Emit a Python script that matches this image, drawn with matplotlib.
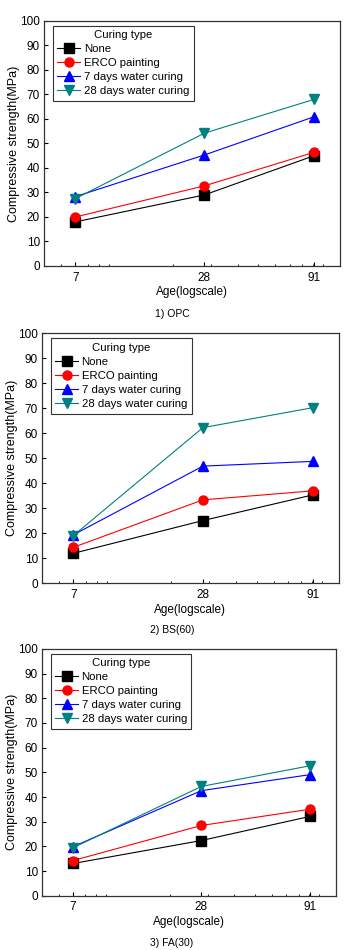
import numpy as np
import matplotlib.pyplot as plt
from matplotlib.ticker import FixedLocator, LogLocator, NullFormatter

plt.rcParams['font.family'] = ['Liberation Sans', 'DejaVu Sans']

#### Data ####

ages = [7, 28, 91]
curing_types = ['None', 'ERCO painting', '7 days water curing', '28 days water curing']

opc = [[18.0, 29.0, 45.0],
       [20.0, 32.7, 46.4],
       [28.3, 45.3, 60.9],
       [27.5, 54.2, 68.0]]

bs60 = [[12.0, 25.1, 35.4],
        [14.4, 33.4, 37.0],
        [19.4, 46.9, 48.8],
        [19.1, 62.3, 70.3]]

fa30 = [[13.1, 22.4, 32.2],
        [14.3, 28.5, 35.1],
        [19.9, 42.6, 49.1],
        [19.5, 44.3, 52.7]]

captions = ['1) OPC', '2) BS(60)', '3) FA(30)']

####################

colors = ['black', 'red', 'blue', '#008080']
markers = ['s', 'o', '^', 'v']

fig = plt.figure(figsize=(3.44, 9.5), dpi=100)

rects = [[0.128, 0.720, 0.860, 0.258],
         [0.122, 0.386, 0.863, 0.263],
         [0.122, 0.057, 0.855, 0.260]]
cap_y = [0.664, 0.332, 0.002]

for rect, data, cap, cy in zip(rects, [opc, bs60, fa30], captions, cap_y):
    ax = fig.add_axes(rect)
    for vals, name, c, m in zip(data, curing_types, colors, markers):
        ax.plot(ages, vals, color=c, marker=m, markersize=6.5, linewidth=0.8,
                label=name)
    ax.set_xscale('log')
    ax.set_xlim(5, 120)
    ax.set_ylim(0, 100)
    ax.xaxis.set_major_locator(FixedLocator(ages))
    ax.set_xticklabels([str(a) for a in ages])
    ax.xaxis.set_minor_locator(LogLocator(subs=np.arange(1, 10)))
    ax.xaxis.set_minor_formatter(NullFormatter())
    ax.set_yticks(np.arange(0, 101, 10))
    ax.tick_params(axis='both', which='major', direction='in', length=3,
                   width=0.8, labelsize=8.5, pad=4)
    ax.tick_params(axis='y', which='major', pad=3)
    ax.tick_params(axis='x', which='minor', direction='in', length=1.5,
                   width=0.6)
    ax.tick_params(axis='y', which='minor', left=False)
    for s in ax.spines.values():
        s.set_linewidth(0.9)
        s.set_color('#333333')
    ax.set_xlabel('Age(logscale)', fontsize=8.5, labelpad=2)
    ax.set_ylabel('Compressive strength(MPa)', fontsize=9, labelpad=0)
    leg = ax.legend(title='Curing type', loc='upper left',
                    bbox_to_anchor=(0.03, 0.98), borderaxespad=0,
                    fontsize=8.2, title_fontsize=8.2, fancybox=False,
                    edgecolor='#333333', framealpha=1, handlelength=2.0,
                    handletextpad=0.3, labelspacing=0.35, borderpad=0.4)
    leg.get_frame().set_linewidth(0.8)
    fig.text(0.5, cy, cap, ha='center', va='bottom', fontsize=7.5)

fig.savefig('out.png', dpi=100)
